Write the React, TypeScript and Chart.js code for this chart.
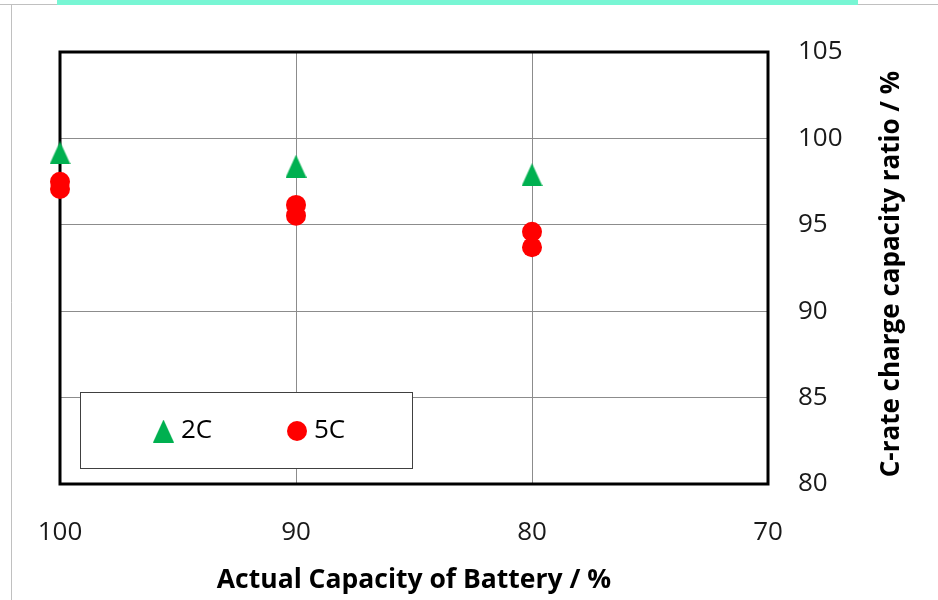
import React, { useEffect, useRef } from "react";
import { Chart, registerables } from "chart.js";

Chart.register(...registerables);

// ---- data ----
const xTickValues = [100, 90, 80, 70];
const yTickValues = [80, 85, 90, 95, 100, 105];
const capacity = [100, 90, 80];
const ratio2C = [99.16, 98.39, 97.9];
const ratio5C_runA = [97.49, 96.15, 94.6];
const ratio5C_runB = [97.07, 95.53, 93.7];
const seriesLabels = ["2C", "5C"];
const xTitle = "Actual Capacity of Battery / %";
const yTitle = "C-rate charge capacity ratio / %";

const FONT = "'Open Sans', 'Noto Sans', sans-serif";
const GREEN = "#00B050";
const RED = "#FF0000";

function makeTriangle(): HTMLCanvasElement {
  const c = document.createElement("canvas");
  c.width = 21;
  c.height = 23;
  const g = c.getContext("2d")!;
  g.fillStyle = GREEN;
  g.beginPath();
  g.moveTo(10.5, 0);
  g.lineTo(21, 23);
  g.lineTo(0, 23);
  g.closePath();
  g.fill();
  return c;
}

export default function App() {
  const ref = useRef<HTMLCanvasElement>(null);

  useEffect(() => {
    if (!ref.current) return;
    const tri = makeTriangle();

    const decor = {
      id: "decor",
      beforeDraw(chart: any) {
        const { ctx, width, height } = chart;
        ctx.save();
        ctx.fillStyle = "#ffffff";
        ctx.fillRect(0, 0, width, height);
        ctx.strokeStyle = "#c0c0c0";
        ctx.lineWidth = 1;
        ctx.beginPath();
        ctx.moveTo(0, 4.5);
        ctx.lineTo(width, 4.5);
        ctx.moveTo(11.5, 4.5);
        ctx.lineTo(11.5, height);
        ctx.stroke();
        ctx.fillStyle = "#78F6D4";
        ctx.fillRect(57, 0, 801, 5);
        ctx.restore();
      },
      beforeDatasetsDraw(chart: any) {
        const { ctx, chartArea: a } = chart;
        ctx.save();
        ctx.strokeStyle = "#000000";
        ctx.lineWidth = 3;
        ctx.strokeRect(a.left, a.top, a.right - a.left, a.bottom - a.top);
        ctx.restore();
      },
      afterDraw(chart: any) {
        const { ctx, chartArea: a } = chart;
        ctx.save();
        // legend box
        ctx.fillStyle = "#ffffff";
        ctx.fillRect(80, 392, 332, 76);
        ctx.strokeStyle = "#404040";
        ctx.lineWidth = 1;
        ctx.strokeRect(80.5, 392.5, 332, 76);
        const ly = 431;
        ctx.drawImage(tri, 163.5 - tri.width / 2, ly - tri.height / 2);
        ctx.fillStyle = RED;
        ctx.beginPath();
        ctx.arc(297, ly, 10, 0, Math.PI * 2);
        ctx.fill();
        ctx.fillStyle = "#000000";
        ctx.font = `26px ${FONT}`;
        ctx.textAlign = "left";
        ctx.textBaseline = "middle";
        ctx.fillText(chart.data.datasets[0].label, 181, ly);
        ctx.fillText(chart.data.datasets[1].label, 314, ly);
        // titles
        ctx.font = `bold 26.5px ${FONT}`;
        ctx.textAlign = "center";
        ctx.fillText(xTitle, (a.left + a.right) / 2, 580);
        ctx.font = `bold 26px ${FONT}`;
        ctx.translate(892, 274);
        ctx.rotate(-Math.PI / 2);
        ctx.fillText(yTitle, 0, 0);
        ctx.restore();
      },
    };

    const chart = new Chart(ref.current, {
      type: "scatter",
      data: {
        datasets: [
          {
            label: seriesLabels[0],
            data: capacity.map((c, i) => ({ x: c, y: ratio2C[i] })),
            pointStyle: tri as any,
            backgroundColor: GREEN,
            borderWidth: 0,
            pointRadius: 11,
            clip: false,
          },
          {
            label: seriesLabels[1],
            data: capacity.flatMap((c, i) => [
              { x: c, y: ratio5C_runA[i] },
              { x: c, y: ratio5C_runB[i] },
            ]),
            pointStyle: "circle",
            backgroundColor: RED,
            borderColor: RED,
            borderWidth: 0,
            pointRadius: 10,
            clip: false,
          },
        ],
      },
      options: {
        responsive: false,
        animation: false,
        layout: { padding: { left: 60, top: 52, right: 0, bottom: 0 } },
        plugins: {
          legend: { display: false },
          tooltip: { enabled: false },
        },
        scales: {
          x: {
            type: "linear",
            position: "bottom",
            reverse: true,
            min: 70,
            max: 100,
            afterBuildTicks: (s: any) => {
              s.ticks = xTickValues.map((v) => ({ value: v }));
            },
            afterFit: (s: any) => {
              s.height = 116;
            },
            ticks: {
              font: { family: FONT, size: 26 },
              color: "#1a1a1a",
              padding: 33,
              maxRotation: 0,
            },
            grid: { color: "#8c8c8c", lineWidth: 1, drawTicks: false },
            border: { display: false },
          },
          y: {
            type: "linear",
            position: "right",
            min: 80,
            max: 105,
            afterBuildTicks: (s: any) => {
              s.ticks = yTickValues.map((v) => ({ value: v }));
            },
            afterFit: (s: any) => {
              s.width = 170;
            },
            ticks: {
              font: { family: FONT, size: 26 },
              color: "#1a1a1a",
              padding: 30,
            },
            grid: { color: "#8c8c8c", lineWidth: 1, drawTicks: false },
            border: { display: false },
          },
        },
      },
      plugins: [decor],
    } as any);

    return () => chart.destroy();
  }, []);

  return (
    <div style={{ position: "absolute", left: 0, top: 0, width: 938, height: 600, background: "#fff" }}>
      <canvas ref={ref} width={938} height={600} style={{ display: "block", width: 938, height: 600 }} />
    </div>
  );
}
